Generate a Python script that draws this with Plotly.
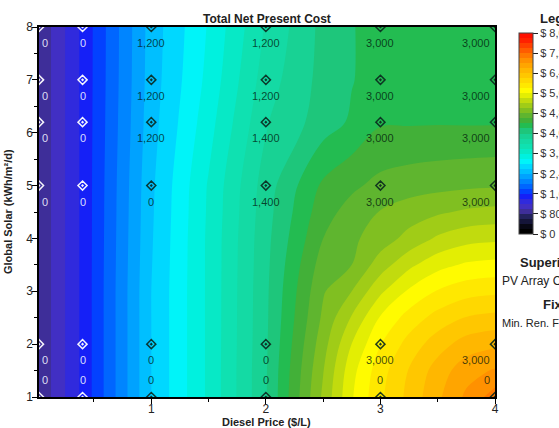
import plotly.graph_objects as go

# ---- data ----
diesel_grid = [0.02, 0.4, 1, 1.5, 2, 2.5, 2.75, 3, 3.25, 3.5, 3.75, 4]   # $/L
solar_grid = [1, 1.5, 2, 2.5, 3, 3.5, 4, 4.5, 5, 6.2, 7, 8]              # kWh/m2/d
# Total net present cost ($), rows follow solar_grid, columns follow diesel_grid
npc = [
    [830000, 1446000, 2600000, 3240000, 3980000, 5040000, 5580000, 5960000, 6260000, 6560000, 6840000, 7100000],
    [830000, 1446000, 2600000, 3240000, 3980000, 4990000, 5532000, 5916000, 6214000, 6490000, 6720000, 6820000],
    [830000, 1446000, 2600000, 3240000, 3970000, 4920000, 5404000, 5792000, 6078000, 6312000, 6490000, 6560000],
    [830000, 1446000, 2600000, 3240000, 3964000, 4840000, 5220000, 5620000, 5884000, 6078000, 6212000, 6260000],
    [830000, 1446000, 2600000, 3240000, 3960000, 4780000, 5000000, 5362000, 5630000, 5816000, 5922000, 5960000],
    [830000, 1446000, 2590000, 3240000, 3950000, 4700000, 4800000, 5100000, 5352000, 5530000, 5628000, 5660000],
    [830000, 1446000, 2580000, 3240000, 3940000, 4600000, 4760000, 4900000, 5064000, 5232000, 5330000, 5360000],
    [830000, 1446000, 2570000, 3230000, 3920000, 4520000, 4680000, 4810000, 4900000, 4970000, 5030000, 5060000],
    [830000, 1446000, 2560000, 3220000, 3900000, 4440000, 4560000, 4660000, 4710000, 4740000, 4764000, 4780000],
    [830000, 1446000, 2520000, 3120000, 3780000, 4100000, 4230000, 4380000, 4380000, 4384000, 4380000, 4380000],
    [830000, 1446000, 2500000, 3060000, 3700000, 4070000, 4190000, 4290000, 4300000, 4310000, 4310000, 4310000],
    [830000, 1446000, 2490000, 3020000, 3620000, 4060000, 4190000, 4270000, 4270000, 4270000, 4260000, 4260000],
]

# sensitivity points and superimposed PV array capacity (kW)
diesel_sens = [0.02, 0.4, 1, 2, 3, 4]
solar_sens = [1, 2, 5, 6.2, 7, 8]
pv_cap = [
    [0, 0, 0, 0, 0, 0],
    [0, 0, 0, 0, 3000, 3000],
    [0, 0, 0, 1400, 3000, 3000],
    [0, 0, 1200, 1400, 3000, 3000],
    [0, 0, 1200, 1200, 3000, 3000],
    [0, 0, 1200, 1200, 3000, 3000],
]

cbar_vals = [0, 800000, 1600000, 2400000, 3200000, 4000000, 4800000, 5600000, 6400000, 7200000, 8000000]
cbar_text = ["$ 0", "$ 800,000", "$ 1,600,000", "$ 2,400,000", "$ 3,200,000", "$ 4,000,000",
             "$ 4,800,000", "$ 5,600,000", "$ 6,400,000", "$ 7,200,000", "$ 8,000,000"]

band_colors = [
    "#000000", "#0e0e26", "#1a1a48", "#2a276e", "#4a32b4", "#3c2ecc", "#2a28e6", "#0c1cff",
    "#0050ff", "#006eff", "#008cff", "#00a8ff", "#00c4ff", "#00dcff", "#00f8f8", "#00f0dc",
    "#08e8c4", "#10e0b0", "#14daa4", "#18d294", "#1ec67c", "#22bc52", "#40b038", "#5cb430",
    "#7cbe22", "#9cca18", "#bcd810", "#dcea04", "#ffff00", "#ffec00", "#ffdc00", "#ffcc00",
    "#ffbc00", "#ffac00", "#ff9800", "#ff8400", "#ff6800", "#ff4c00", "#ff3000", "#ff1000",
]

FONT = "Liberation Sans, Arial, sans-serif"
W, H = 559, 428
ML, MR, MT, MB = 39, 64, 27, 31
PW, PH = W - ML - MR, H - MT - MB

def px2paper_x(px):
    return (px - ML) / PW

def px2paper_y(py):
    return 1 - (py - MT) / PH

nlev = len(band_colors) + 1
colorscale = [[0, band_colors[0]]] + [[(k + 1) / nlev, c] for k, c in enumerate(band_colors)] + [[1, band_colors[-1]]]

fig = go.Figure()
fig.add_trace(go.Contour(
    x=diesel_grid, y=solar_grid, z=npc,
    autocontour=False,
    contours=dict(start=0, end=8000000, size=200000, coloring="fill", showlines=False),
    line=dict(width=0),
    colorscale=colorscale, zmin=0, zmax=8000000,
    colorbar=dict(
        x=px2paper_x(519), xanchor="left", xpad=0,
        y=px2paper_y(133.5), yanchor="middle", ypad=0,
        thickness=14, thicknessmode="pixels", len=201, lenmode="pixels",
        tickvals=cbar_vals, ticktext=cbar_text, ticks="outside", ticklen=5,
        tickcolor="#222", tickfont=dict(family=FONT, size=11, color="#333"),
        outlinewidth=1, outlinecolor="#444",
    ),
    hoverinfo="skip",
))

# markers at sensitivity points
mx, my, mc = [], [], []
for j, yv in enumerate(solar_sens):
    for i, xv in enumerate(diesel_sens):
        mx.append(xv)
        my.append(yv)
        mc.append("rgba(255,255,255,0.95)" if xv < 0.5 else "rgba(10,40,30,0.9)")
fig.add_trace(go.Scatter(
    x=mx, y=my, mode="markers", cliponaxis=True,
    marker=dict(symbol="diamond-open-dot", size=7, color=mc, line=dict(width=1.5, color=mc)),
    hoverinfo="skip", showlegend=False,
))

annotations = []
for j, yv in enumerate(solar_sens):
    for i, xv in enumerate(diesel_sens):
        val = pv_cap[j][i]
        txt = f"{val:,}"
        if i == 0:
            xa, xs = "left", 1
        elif i == len(diesel_sens) - 1:
            xa, xs = "right", -3
        else:
            xa, xs = "center", 0
        ys = 17 if j == 0 else -16
        col = "rgba(240,240,255,0.9)" if xv < 0.5 else "rgba(0,20,10,0.75)"
        annotations.append(dict(
            x=xv, y=yv, xref="x", yref="y", text=txt, showarrow=False,
            xanchor=xa, yanchor="middle", xshift=xs, yshift=ys,
            font=dict(family=FONT, size=11, color=col),
        ))

# titles
annotations.append(dict(x=0.5, y=px2paper_y(19), xref="paper", yref="paper",
                        text="<b>Total Net Present Cost</b>", showarrow=False,
                        xanchor="center", yanchor="middle",
                        font=dict(family=FONT, size=12, color="#222")))
annotations.append(dict(x=px2paper_x(266), y=px2paper_y(422), xref="paper", yref="paper",
                        text="<b>Diesel Price ($/L)</b>", showarrow=False,
                        xanchor="center", yanchor="middle",
                        font=dict(family=FONT, size=11, color="#222")))
annotations.append(dict(x=px2paper_x(8), y=px2paper_y(212), xref="paper", yref="paper",
                        text="<b>Global Solar (kWh/m²/d)</b>", showarrow=False, textangle=-90,
                        xanchor="center", yanchor="middle",
                        font=dict(family=FONT, size=11, color="#222")))
# legend panel texts (cut at the page edge as in the reference)
annotations.append(dict(x=px2paper_x(538), y=px2paper_y(18), xref="paper", yref="paper",
                        text="<b>Legend</b>", showarrow=False, xanchor="left", yanchor="middle",
                        font=dict(family=FONT, size=13, color="#222")))
annotations.append(dict(x=px2paper_x(518), y=px2paper_y(262), xref="paper", yref="paper",
                        text="<b>Superimposed</b>", showarrow=False, xanchor="left", yanchor="middle",
                        font=dict(family=FONT, size=13, color="#222")))
annotations.append(dict(x=px2paper_x(500), y=px2paper_y(281), xref="paper", yref="paper",
                        text="PV Array Capacity (kW)", showarrow=False, xanchor="left", yanchor="middle",
                        font=dict(family=FONT, size=12, color="#222")))
annotations.append(dict(x=px2paper_x(541), y=px2paper_y(304), xref="paper", yref="paper",
                        text="<b>Fixed</b>", showarrow=False, xanchor="left", yanchor="middle",
                        font=dict(family=FONT, size=13, color="#222")))
annotations.append(dict(x=px2paper_x(500), y=px2paper_y(323), xref="paper", yref="paper",
                        text="Min. Ren. Fraction = 0 %", showarrow=False, xanchor="left", yanchor="middle",
                        font=dict(family=FONT, size=11, color="#222")))

axis_common = dict(
    showgrid=False, zeroline=False, showline=True, linecolor="black", linewidth=1.5,
    mirror=True, ticks="outside", ticklen=5, tickcolor="black", tickwidth=1,
    tickfont=dict(family=FONT, size=12, color="#222"),
)
fig.update_layout(
    width=W, height=H,
    margin=dict(l=ML, r=MR, t=MT, b=MB, autoexpand=False),
    paper_bgcolor="white", plot_bgcolor="white",
    showlegend=False,
    font=dict(family=FONT),
    xaxis=dict(range=[0.02, 4], tickvals=[1, 2, 3, 4], ticklabelstandoff=-5,
               minor=dict(tickvals=[0.5, 1.5, 2.5, 3.5], ticks="outside", ticklen=3, tickcolor="black"),
               **axis_common),
    yaxis=dict(range=[1, 8], tickvals=[1, 2, 3, 4, 5, 6, 7, 8], ticklabelstandoff=-3,
               minor=dict(tickvals=[1.5, 2.5, 3.5, 4.5, 5.5, 6.5, 7.5], ticks="outside", ticklen=3, tickcolor="black"),
               **axis_common),
    annotations=annotations,
)

fig.write_html("out.html")
